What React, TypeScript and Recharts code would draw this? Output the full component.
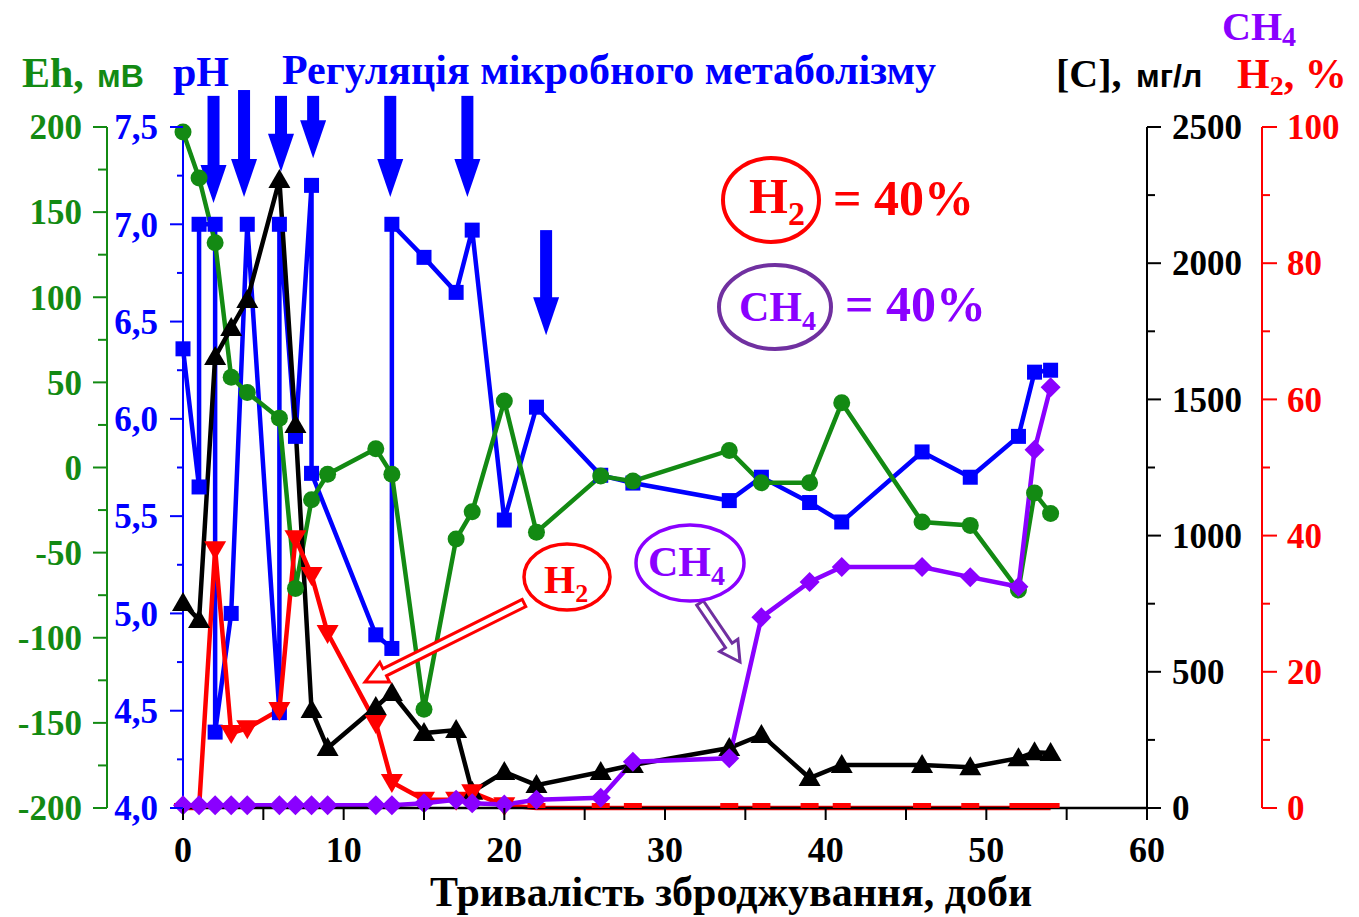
import React from 'react';
import { LineChart, Line, XAxis, YAxis, ReferenceLine } from 'recharts';

// ---- data ----
const phDays = [0, 1, 1, 2, 2, 3, 4, 6, 6, 7, 8, 8, 12, 13, 13, 15, 17, 18, 20, 22, 26, 28, 34, 36, 39, 41, 46, 49, 52, 53, 54];
const phValues = [6.36, 5.65, 7.0, 7.0, 4.39, 5.0, 7.0, 4.49, 7.0, 5.91, 7.2, 5.72, 4.89, 4.82, 7.0, 6.83, 6.65, 6.97, 5.48, 6.06, 5.71, 5.67, 5.58, 5.7, 5.57, 5.47, 5.83, 5.7, 5.91, 6.24, 6.25];

const days = [0, 1, 2, 3, 4, 6, 7, 8, 9, 12, 13, 15, 17, 18, 20, 22, 26, 28, 34, 36, 39, 41, 46, 49, 52, 53, 54];
const ehValues = [197, 170, 132, 53, 44, 29, -71, -19, -4, 11, -4, -142, -42, -26, 39, -38, -5, -8, 10, -9, -9, 38, -32, -34, -72, -15, -27];
const cValues = [753, 690, 1656, 1762, 1865, 2305, 1406, 360, 220, 371, 422, 275, 286, 60, 132, 84, 132, 158, 220, 268, 110, 158, 158, 150, 183, 205, 202];
const h2Values = [0, 0, 38, 11, 11.7, 14.4, 39.6, 34.2, 25.7, 12.5, 3.8, 1.2, 1.2, 2.3, 0.4, 0, 0, 0, 0, 0, 0, 0, 0, 0, 0, 0, 0];
const ch4Values = [0.4, 0.4, 0.4, 0.4, 0.4, 0.4, 0.4, 0.4, 0.4, 0.4, 0.4, 0.7, 1.2, 0.7, 0.5, 1.2, 1.5, 6.8, 7.3, 28, 33.2, 35.4, 35.4, 33.9, 32.5, 52.6, 61.8];

// regulation arrows (day, top pH, tip pH)
const regDays = [1.9, 3.8, 6.1, 8.1, 12.9, 17.7, 22.6];
const regTop = [7.66, 7.69, 7.66, 7.66, 7.66, 7.66, 6.97];
const regTip = [7.11, 7.14, 7.27, 7.34, 7.14, 7.14, 6.43];

const xTicks = [0, 5, 10, 15, 20, 25, 30, 35, 40, 45, 50, 55, 60];
const phTicks = [4, 4.25, 4.5, 4.75, 5, 5.25, 5.5, 5.75, 6, 6.25, 6.5, 6.75, 7, 7.25, 7.5];
const ehTicks = [-200, -175, -150, -125, -100, -75, -50, -25, 0, 25, 50, 75, 100, 125, 150, 175, 200];
const cTicks = [0, 250, 500, 750, 1000, 1250, 1500, 1750, 2000, 2250, 2500];
const pctTicks = [0, 10, 20, 30, 40, 50, 60, 70, 80, 90, 100];

const BLUE = '#0000ff';
const GREEN = '#138a13';
const RED = '#ff0000';
const VIOLET = '#8a00ff';
const PURPLE = '#7030a0';
const SERIF = '"Liberation Serif", "Times New Roman", serif';
const SANS = '"Liberation Sans", Arial, sans-serif';

// axis ids: order matters for stacking (pH next to the plot, Eh outside)
const PH = 'a_ph';
const EH = 'b_eh';
const CC = 'a_c';
const PCT = 'b_pct';

const phData = phDays.map((d, i) => ({ day: d, v: phValues[i] }));
const ehData = days.map((d, i) => ({ day: d, v: ehValues[i] }));
const cData = days.map((d, i) => ({ day: d, v: cValues[i] }));
const h2Data = days.map((d, i) => ({ day: d, v: h2Values[i] }));
const ch4Data = days.map((d, i) => ({ day: d, v: ch4Values[i] }));

const isMajor = (v: number, step: number) => Math.abs(v / step - Math.round(v / step)) < 1e-6;

function LeftTick(props: any) {
  const { x, y, payload, color, step, fmt, len, minor } = props;
  const major = isMajor(payload.value, step);
  return (
    <g>
      <line x1={x} x2={x - (major ? len : minor)} y1={y} y2={y} stroke={color} strokeWidth={2} />
      {major && (
        <text x={x - 25} y={y} dy="0.35em" textAnchor="end" fill={color} fontFamily={SERIF} fontWeight="bold" fontSize={35}>
          {fmt(payload.value)}
        </text>
      )}
    </g>
  );
}

function RightTick(props: any) {
  const { x, y, payload, color, step, len, minor } = props;
  const major = isMajor(payload.value, step);
  return (
    <g>
      <line x1={x} x2={x + (major ? len : minor)} y1={y} y2={y} stroke={color} strokeWidth={2} />
      {major && (
        <text x={x + 25} y={y} dy="0.35em" textAnchor="start" fill={color} fontFamily={SERIF} fontWeight="bold" fontSize={35}>
          {payload.value}
        </text>
      )}
    </g>
  );
}

function XTick(props: any) {
  const { x, y, payload } = props;
  const major = isMajor(payload.value, 10);
  return (
    <g>
      <line x1={x} x2={x} y1={y} y2={y + 12} stroke="#000" strokeWidth={2} />
      {major && (
        <text x={x} y={y + 54} textAnchor="middle" fill="#000" fontFamily={SERIF} fontWeight="bold" fontSize={36}>
          {payload.value}
        </text>
      )}
    </g>
  );
}

function RegArrow(props: any) {
  const { x1, y1, y2 } = props;
  const top = Math.min(y1, y2);
  const tip = Math.max(y1, y2);
  const headL = 38;
  return (
    <g>
      <rect x={x1 - 6} y={top} width={12} height={tip - top - headL + 2} fill={BLUE} />
      <polygon points={`${x1 - 13},${tip - headL} ${x1 + 13},${tip - headL} ${x1},${tip}`} fill={BLUE} />
    </g>
  );
}

function hollowArrow(x1: number, y1: number, x2: number, y2: number, shaft: number, headW: number, headL: number) {
  const dx = x2 - x1;
  const dy = y2 - y1;
  const len = Math.hypot(dx, dy);
  const ux = dx / len;
  const uy = dy / len;
  const nx = -uy;
  const ny = ux;
  const bx = x2 - ux * headL;
  const by = y2 - uy * headL;
  const pts = [
    [x1 + nx * shaft, y1 + ny * shaft],
    [bx + nx * shaft, by + ny * shaft],
    [bx + nx * headW, by + ny * headW],
    [x2, y2],
    [bx - nx * headW, by - ny * headW],
    [bx - nx * shaft, by - ny * shaft],
    [x1 - nx * shaft, y1 - ny * shaft],
  ];
  return pts.map((p) => p.join(',')).join(' ');
}

const squareDot = (p: any) => (
  <rect key={`ph${p.index}`} x={p.cx - 7.5} y={p.cy - 7.5} width={15} height={15} fill={BLUE} />
);
const circleDot = (p: any) => <circle key={`eh${p.index}`} cx={p.cx} cy={p.cy} r={8.5} fill={GREEN} />;
const triDot = (p: any) => (
  <polygon key={`c${p.index}`} points={`${p.cx - 11},${p.cy + 8} ${p.cx + 11},${p.cy + 8} ${p.cx},${p.cy - 11}`} fill="#000" />
);
const invTriDot = (p: any) =>
  p.payload.v === 0 ? (
    <rect key={`h${p.index}`} x={p.cx - 9} y={p.cy - 5} width={18} height={5} fill={RED} />
  ) : (
    <polygon key={`h${p.index}`} points={`${p.cx - 11},${p.cy - 8} ${p.cx + 11},${p.cy - 8} ${p.cx},${p.cy + 11}`} fill={RED} />
  );
const diamondDot = (p: any) => (
  <polygon key={`m${p.index}`} points={`${p.cx},${p.cy - 10} ${p.cx + 10},${p.cy} ${p.cx},${p.cy + 10} ${p.cx - 10},${p.cy}`} fill={VIOLET} />
);

export default function App() {
  return (
    <div style={{ position: 'absolute', left: 0, top: 0, width: 1359, height: 917, background: '#fff' }}>
      <LineChart width={1359} height={917} margin={{ top: 127, right: 0, bottom: 0, left: 0 }}>
        <XAxis
          dataKey="day"
          type="number"
          domain={[0, 60]}
          ticks={xTicks}
          interval={0}
          height={109}
          tickSize={0}
          tickMargin={0}
          tickLine={false}
          axisLine={{ stroke: '#000', strokeWidth: 2.5 }}
          tick={(p: any) => <XTick {...p} />}
          allowDuplicatedCategory
        />
        <YAxis
          yAxisId={PH}
          orientation="left"
          width={76}
          type="number"
          domain={[4, 7.5]}
          ticks={phTicks}
          interval={0}
          tickSize={0}
          tickMargin={0}
          tickLine={false}
          axisLine={{ stroke: BLUE, strokeWidth: 2 }}
          tick={(p: any) => (
            <LeftTick {...p} color={BLUE} step={0.5} len={13} minor={6} fmt={(v: number) => v.toFixed(1).replace('.', ',')} />
          )}
        />
        <YAxis
          yAxisId={EH}
          orientation="left"
          width={107}
          type="number"
          domain={[-200, 200]}
          ticks={ehTicks}
          interval={0}
          tickSize={0}
          tickMargin={0}
          tickLine={false}
          axisLine={{ stroke: GREEN, strokeWidth: 2 }}
          tick={(p: any) => <LeftTick {...p} color={GREEN} step={50} len={14} minor={9} fmt={(v: number) => String(v)} />}
        />
        <YAxis
          yAxisId={CC}
          orientation="right"
          width={115}
          type="number"
          domain={[0, 2500]}
          ticks={cTicks}
          interval={0}
          tickSize={0}
          tickMargin={0}
          tickLine={false}
          axisLine={{ stroke: '#000', strokeWidth: 2 }}
          tick={(p: any) => <RightTick {...p} color="#000" step={500} len={14} minor={8} />}
        />
        <YAxis
          yAxisId={PCT}
          orientation="right"
          width={97}
          type="number"
          domain={[0, 100]}
          ticks={pctTicks}
          interval={0}
          tickSize={0}
          tickMargin={0}
          tickLine={false}
          axisLine={{ stroke: RED, strokeWidth: 2 }}
          tick={(p: any) => <RightTick {...p} color={RED} step={20} len={15} minor={8} />}
        />

        <Line yAxisId={PH} data={phData} dataKey="v" type="linear" stroke={BLUE} strokeWidth={4.5} dot={squareDot} activeDot={false} isAnimationActive={false} />
        <Line yAxisId={EH} data={ehData} dataKey="v" type="linear" stroke={GREEN} strokeWidth={4.5} dot={circleDot} activeDot={false} isAnimationActive={false} />
        <Line yAxisId={CC} data={cData} dataKey="v" type="linear" stroke="#000" strokeWidth={4.5} dot={triDot} activeDot={false} isAnimationActive={false} />
        <Line yAxisId={PCT} data={h2Data} dataKey="v" type="linear" stroke={RED} strokeWidth={4.5} dot={invTriDot} activeDot={false} isAnimationActive={false} />
        <Line yAxisId={PCT} data={ch4Data} dataKey="v" type="linear" stroke={VIOLET} strokeWidth={4.5} dot={diamondDot} activeDot={false} isAnimationActive={false} />

        {regDays.map((d, i) => (
          <ReferenceLine
            key={`reg${i}`}
            yAxisId={PH}
            segment={[{ x: d, y: regTop[i] }, { x: d, y: regTip[i] }]}
            ifOverflow="visible"
            stroke="none"
            shape={(p: any) => <RegArrow {...p} />}
          />
        ))}
      </LineChart>

      <svg width={1359} height={917} style={{ position: 'absolute', left: 0, top: 0, pointerEvents: 'none' }}>
        {/* axis headers */}
        <text x={22} y={87} fill={GREEN} fontFamily={SERIF} fontWeight="bold" fontSize={42}>Eh,</text>
        <text x={97} y={87} fill={GREEN} fontFamily={SANS} fontWeight="bold" fontSize={32}>мВ</text>
        <text x={173} y={86} fill={BLUE} fontFamily={SERIF} fontWeight="bold" fontSize={42}>pH</text>
        <text x={282} y={84} fill={BLUE} fontFamily={SERIF} fontWeight="bold" fontSize={42}>Регуляція мікробного метаболізму</text>

        <text x={1056} y={87} fill="#000" fontFamily={SERIF} fontWeight="bold" fontSize={40}>[C],</text>
        <text x={1136} y={87} fill="#000" fontFamily={SANS} fontWeight="bold" fontSize={32}>мг/л</text>
        <text x={1237} y={88} fill={RED} fontFamily={SERIF} fontWeight="bold" fontSize={42}>
          H<tspan fontSize={28} dy={7}>2</tspan><tspan dy={-7}>, %</tspan>
        </text>
        <text x={1222} y={40} fill={VIOLET} fontFamily={SERIF} fontWeight="bold" fontSize={40}>
          CH<tspan fontSize={28} dy={6}>4</tspan>
        </text>

        {/* x-axis title */}
        <text x={430} y={906} fill="#000" fontFamily={SERIF} fontWeight="bold" fontSize={42}>Тривалість зброджування, доби</text>

        {/* summary annotations */}
        <ellipse cx={771} cy={200} rx={48} ry={42} fill="none" stroke={RED} strokeWidth={4} />
        <text x={749} y={213} fill={RED} fontFamily={SERIF} fontWeight="bold" fontSize={50}>
          H<tspan fontSize={34} dy={12}>2</tspan>
        </text>
        <text x={833} y={215} fill={RED} fontFamily={SERIF} fontWeight="bold" fontSize={50}>= 40%</text>

        <ellipse cx={775} cy={307} rx={56} ry={42} fill="none" stroke={PURPLE} strokeWidth={4} />
        <text x={739} y={321} fill={VIOLET} fontFamily={SERIF} fontWeight="bold" fontSize={42}>
          CH<tspan fontSize={28} dy={9}>4</tspan>
        </text>
        <text x={845} y={321} fill={VIOLET} fontFamily={SERIF} fontWeight="bold" fontSize={50}>= 40%</text>

        {/* series labels with arrows */}
        <polygon points={hollowArrow(524, 603, 365, 682, 4, 11, 22)} fill="#fff" stroke={RED} strokeWidth={3} strokeLinejoin="miter" />
        <ellipse cx={567} cy={577} rx={43} ry={33} fill="#fff" stroke={RED} strokeWidth={3.5} />
        <text x={544} y={593} fill={RED} fontFamily={SERIF} fontWeight="bold" fontSize={40}>
          H<tspan fontSize={26} dy={9}>2</tspan>
        </text>

        <polygon points={hollowArrow(700, 603, 740, 662, 4, 11, 20)} fill="#fff" stroke={PURPLE} strokeWidth={3} strokeLinejoin="miter" />
        <ellipse cx={690} cy={563} rx={54} ry={38} fill="#fff" stroke={VIOLET} strokeWidth={3.5} />
        <text x={648} y={576} fill={VIOLET} fontFamily={SERIF} fontWeight="bold" fontSize={42}>
          CH<tspan fontSize={28} dy={9}>4</tspan>
        </text>
      </svg>
    </div>
  );
}
